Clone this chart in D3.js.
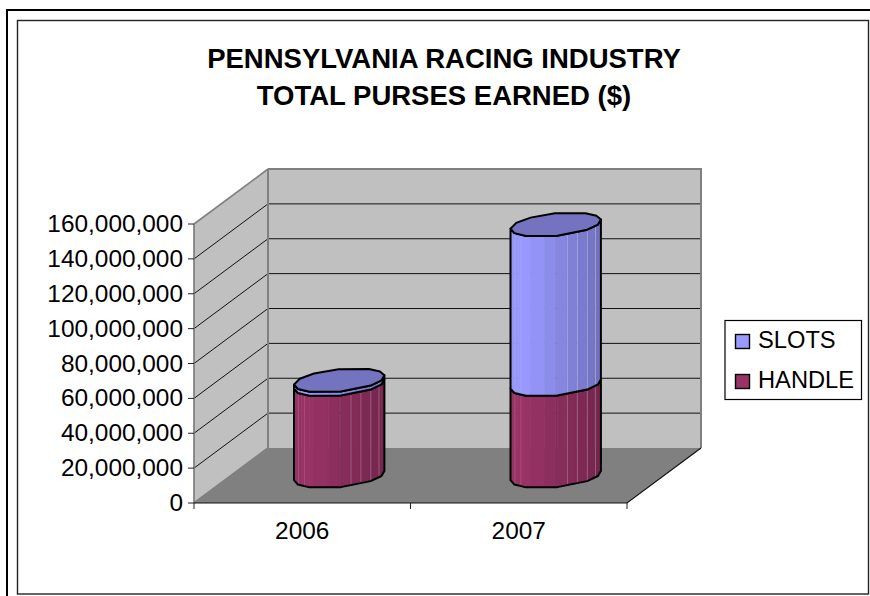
<!DOCTYPE html>
<html><head><meta charset="utf-8"><script src="https://cdn.jsdelivr.net/npm/d3@7/dist/d3.min.js"></script>
<style>html,body{margin:0;padding:0;background:#fff}svg{display:block}text{font-family:"Liberation Sans",Arial,sans-serif;fill:#000}</style></head>
<body><svg id="c" width="870" height="596"></svg>
<script>
const titleLines = ["PENNSYLVANIA RACING INDUSTRY", "TOTAL PURSES EARNED ($)"];
const categories = ["2006", "2007"];
const handleValues = [52500000, 52500000];
const slotsValues = [2300000, 91700000];
const tickValues = [0, 20000000, 40000000, 60000000, 80000000, 100000000, 120000000, 140000000, 160000000];
const legendLabels = ["SLOTS", "HANDLE"];

const svg = d3.select("#c");
const depth = {dx: 74, dy: -55};
const x = d3.scaleBand().domain(categories).range([194, 627]);
const y = d3.scaleLinear().domain([0, 160000000]).range([503, 224]);
const fmt = d3.format(",");
const pts = a => a.map(p => p.join(",")).join(" ");

svg.append("path").attr("d", "M7,596V10H870").attr("fill", "none").attr("stroke", "#000").attr("stroke-width", 2);
svg.append("rect").attr("x", 17.5).attr("y", 20.5).attr("width", 851).attr("height", 573.5).attr("fill", "#fff").attr("stroke", "#222").attr("stroke-width", 1.4);

svg.selectAll("text.title").data(titleLines).enter().append("text")
  .attr("x", 444).attr("y", (d, i) => 68 + i * 36.5).attr("text-anchor", "middle")
  .attr("font-size", 27.5).attr("font-weight", "bold").text(d => d);

const [x0, x1] = x.range(), y0 = y(0), yT = y(160000000);
svg.append("polygon").attr("points", pts([[x0, y0], [x0 + depth.dx, y0 + depth.dy], [x0 + depth.dx, yT + depth.dy], [x0, yT]])).attr("fill", "#c0c0c0");
svg.append("polygon").attr("points", pts([[x0 + depth.dx, y0 + depth.dy], [x1 + depth.dx, y0 + depth.dy], [x1 + depth.dx, yT + depth.dy], [x0 + depth.dx, yT + depth.dy]])).attr("fill", "#c0c0c0");
svg.append("polygon").attr("points", pts([[x0, y0], [x1, y0], [x1 + depth.dx, y0 + depth.dy], [x0 + depth.dx, y0 + depth.dy]])).attr("fill", "#808080");
tickValues.slice(1, -1).forEach(v => {
  const yy = y(v);
  svg.append("polyline").attr("points", pts([[x0, yy], [x0 + depth.dx, yy + depth.dy], [x1 + depth.dx, yy + depth.dy]])).attr("fill", "none").attr("stroke", "#111").attr("stroke-width", 1);
});
svg.append("polyline").attr("points", pts([[x0 + depth.dx, yT + depth.dy], [x1 + depth.dx, yT + depth.dy], [x1 + depth.dx, y0 + depth.dy]])).attr("fill", "none").attr("stroke", "#808080").attr("stroke-width", 2);
svg.append("polyline").attr("points", pts([[x0, y0], [x0 + depth.dx, y0 + depth.dy], [x0 + depth.dx, yT + depth.dy]])).attr("fill", "none").attr("stroke", "#808080").attr("stroke-width", 2);
svg.append("polyline").attr("points", pts([[x0, yT], [x0 + depth.dx, yT + depth.dy]])).attr("fill", "none").attr("stroke", "#808080").attr("stroke-width", 1.6);
svg.append("line").attr("x1", x0).attr("x2", x0).attr("y1", y0).attr("y2", yT).attr("stroke", "#777").attr("stroke-width", 1.6);
svg.append("polyline").attr("points", pts([[x0, y0], [x1, y0], [x1 + depth.dx, y0 + depth.dy]])).attr("fill", "none").attr("stroke", "#111").attr("stroke-width", 1.2);
tickValues.forEach(v => {
  svg.append("line").attr("x1", x0 - 6).attr("x2", x0).attr("y1", y(v)).attr("y2", y(v)).attr("stroke", "#222");
  svg.append("text").attr("x", 183).attr("y", y(v) + 8).attr("text-anchor", "end").attr("font-size", 24.4).text(fmt(v));
});
[x0, ...categories.map(c => x(c) + x.bandwidth())].forEach(px => {
  svg.append("line").attr("x1", px).attr("x2", px).attr("y1", y0).attr("y2", y0 + 6).attr("stroke", "#222");
});
categories.forEach(c => {
  svg.append("text").attr("x", x(c) + x.bandwidth() / 2).attr("y", 539).attr("text-anchor", "middle").attr("font-size", 24.4).text(c);
});

// cylinder: a faceted circle on the floor plane, projected obliquely
const rx = x.bandwidth() * 0.195, rd = 0.22, baseDrop = 0.5;
const backAngles = [25, 47, 70, 112, 145, 172, 200];
const frontAngles = [200, 225, 250, 293, 335, 360, 385];
const bandEdges = [0, .08, .22, .38, .5, .62, .73, .84, .93, 1];
const sheenAt = [.05, .115, .63, .74, .85, .94];
const project = (cx, val, deg) => {
  const t = deg * Math.PI / 180, d = 0.5 + rd * Math.sin(t);
  return [cx + rx * Math.cos(t) + depth.dx * d, y(val) + depth.dy * d + baseDrop];
};
const arc = (cx, val, list) => list.map(a => project(cx, val, a));
const shade = {
  slots: d3.scaleLinear().domain([0, .18, 1]).range(["#9595f8", "#9999ff", "#7070bc"]),
  handle: d3.scaleLinear().domain([0, .18, 1]).range(["#963265", "#993366", "#73264c"])
};
const sheen = {slots: "#b4b4f4", handle: "#b9779a"};
function drawSegment(cx, lower, upper, sh, sheenColor) {
  const bot = arc(cx, lower, frontAngles), top = arc(cx, upper, frontAngles);
  const xl = bot[0][0], xr = bot[bot.length - 1][0];
  const dropAt = d3.scaleLinear().domain(bot.map(p => p[0])).range(bot.map(p => p[1] - y(lower)));
  const edgeAt = (f, val) => { const px = xl + f * (xr - xl); return [px, y(val) + dropAt(px)]; };
  const allX = bot.map(p => p[0]);
  const stops = Array.from(new Set([...bandEdges.map(f => xl + f * (xr - xl)), ...allX])).sort(d3.ascending);
  const frac = px => (px - xl) / (xr - xl);
  stops.slice(0, -1).forEach((px, i) => {
    const f = frac(px), g = frac(stops[i + 1]);
    const band = Math.min(d3.bisectRight(bandEdges, (f + g) / 2) - 1, bandEdges.length - 2);
    const c = sh((bandEdges[band] + bandEdges[band + 1]) / 2);
    svg.append("polygon").attr("points", pts([edgeAt(f, lower), edgeAt(g, lower), edgeAt(g, upper), edgeAt(f, upper)]))
      .attr("fill", c).attr("stroke", c).attr("stroke-width", .5);
  });
  sheenAt.forEach((f, i) => {
    const a = edgeAt(f, lower), b = edgeAt(f, upper);
    svg.append("line").attr("x1", a[0]).attr("x2", b[0]).attr("y1", a[1]).attr("y2", b[1])
      .attr("stroke", sheenColor).attr("stroke-width", .8).attr("opacity", i < 2 ? .5 : .8);
  });
  svg.append("polygon").attr("points", pts([...bot, ...top.slice().reverse()])).attr("fill", "none").attr("stroke", "#000").attr("stroke-width", 2).attr("stroke-linejoin", "round");
}
categories.forEach((c, i) => {
  const cx = x(c) + x.bandwidth() / 2, total = handleValues[i] + slotsValues[i];
  drawSegment(cx, 0, handleValues[i], shade.handle, sheen.handle);
  drawSegment(cx, handleValues[i], total, shade.slots, sheen.slots);
  svg.append("polygon").attr("points", pts([...arc(cx, total, backAngles), ...arc(cx, total, frontAngles).slice(1, -1)]))
    .attr("fill", "#7373bf").attr("stroke", "#000").attr("stroke-width", 2).attr("stroke-linejoin", "round");
});

svg.append("rect").attr("x", 725).attr("y", 320.5).attr("width", 136.5).attr("height", 79).attr("fill", "#fff").attr("stroke", "#000").attr("stroke-width", 1.2);
const legendFill = ["#9999ff", "#993366"];
legendLabels.forEach((l, i) => {
  svg.append("rect").attr("x", 735.5).attr("y", 334.5 + i * 40).attr("width", 14).attr("height", 14).attr("fill", legendFill[i]).attr("stroke", "#000").attr("stroke-width", 1.4);
  svg.append("text").attr("x", 758).attr("y", 348 + i * 40).attr("font-size", 23.7).text(l);
});
</script></body></html>
